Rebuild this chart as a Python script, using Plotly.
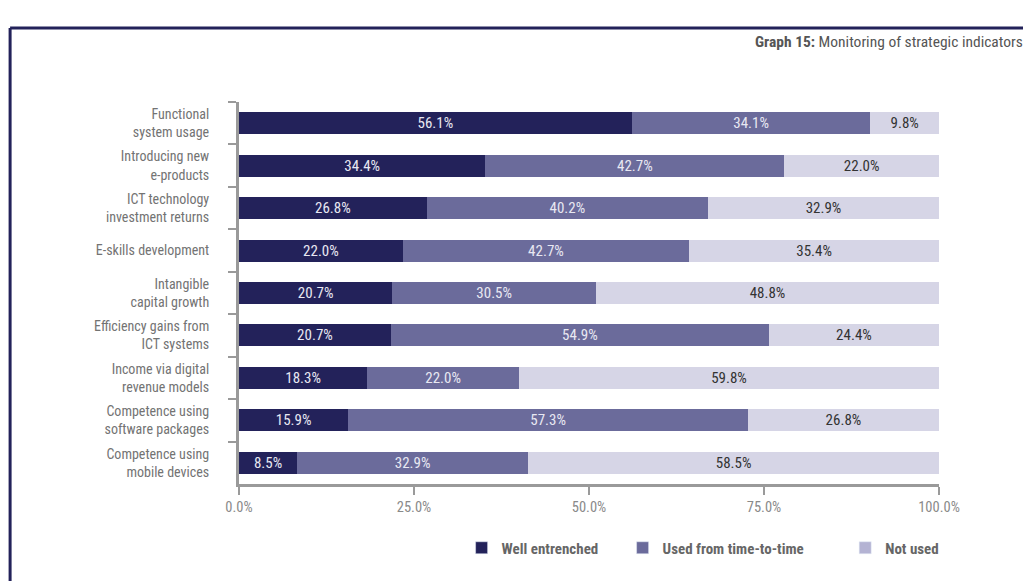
import plotly.graph_objects as go

categories = [
    "Functional<br>system usage",
    "Introducing new<br>e-products",
    "ICT technology<br>investment returns",
    "E-skills development",
    "Intangible<br>capital growth",
    "Efficiency gains from<br>ICT systems",
    "Income via digital<br>revenue models",
    "Competence using<br>software packages",
    "Competence using<br>mobile devices",
]

series_names = ["Well entrenched", "Used from time-to-time", "Not used"]

# printed labels
labels_well = [56.1, 34.4, 26.8, 22.0, 20.7, 20.7, 18.3, 15.9, 8.5]
labels_time = [34.1, 42.7, 40.2, 42.7, 30.5, 54.9, 22.0, 57.3, 32.9]
labels_not = [9.8, 22.0, 32.9, 35.4, 48.8, 24.4, 59.8, 26.8, 58.5]

# bar lengths as drawn in the picture
well = [56.1, 35.2, 26.8, 23.4, 21.9, 21.7, 18.3, 15.6, 8.3]
time = [34.1, 42.7, 40.2, 40.9, 29.1, 54.0, 21.7, 57.1, 33.0]
notu = [9.8, 22.1, 33.0, 35.7, 49.0, 24.3, 60.0, 27.3, 58.7]

x_ticks = [0, 25, 50, 75, 100]
x_ticklabels = ["0.0%", "25.0%", "50.0%", "75.0%", "100.0%"]

colors = ["#23225a", "#6b6b9b", "#d6d5e6"]
legend_colors = ["#23225a", "#6b6b9b", "#b4b3d3"]
text_colors = ["#e8e8f2", "#e8e8f2", "#333333"]

FONT = "Liberation Sans Narrow, Roboto Condensed, Arial Narrow, sans-serif"

fig = go.Figure()
for name, vals, labs, c, tc in zip(series_names, [well, time, notu],
                                   [labels_well, labels_time, labels_not],
                                   colors, text_colors):
    fig.add_trace(go.Bar(
        y=categories,
        x=vals,
        orientation="h",
        name=name,
        marker=dict(color=c, line=dict(width=0)),
        text=[f"{v:.1f}%" for v in labs],
        textposition="inside",
        insidetextanchor="middle",
        textangle=0,
        textfont=dict(color=tc, size=15, family=FONT),
        width=0.52,
        showlegend=False,
    ))

# legend entries, one legend each so they can be spaced like the original
legend_ids = ["legend", "legend2", "legend3"]
legend_x = [0.318, 0.548, 0.866]
for name, c, lid in zip(series_names, legend_colors, legend_ids):
    fig.add_trace(go.Bar(
        y=[None], x=[None], orientation="h", name=name,
        marker=dict(color=c), showlegend=True, legend=lid,
    ))

legend_style = dict(
    orientation="h",
    xanchor="left",
    y=-0.1675,
    yanchor="middle",
    bgcolor="rgba(0,0,0,0)",
    font=dict(size=15, color="#666666", family=FONT, weight="bold"),
    itemwidth=30,
)

fig.update_layout(
    width=1031,
    height=581,
    barmode="stack",
    plot_bgcolor="white",
    paper_bgcolor="white",
    font=dict(family=FONT, color="#666666", size=14),
    uniformtext=dict(minsize=15, mode="show"),
    # page body adds an 8px offset, so the margins are shifted back by 8px
    margin=dict(l=231, r=100, t=94, b=105),
    xaxis=dict(
        range=[0, 100],
        tickvals=x_ticks,
        ticktext=x_ticklabels,
        showgrid=False,
        zeroline=False,
        showline=True,
        linecolor="#9a9a9a",
        linewidth=3,
        ticks="outside",
        ticklen=8,
        tickwidth=2,
        tickcolor="#9a9a9a",
        tickfont=dict(size=14.5, color="#8a8a8a"),
        fixedrange=True,
    ),
    yaxis=dict(
        range=[8.5, -0.5],
        showgrid=False,
        showline=True,
        linecolor="#9a9a9a",
        linewidth=3,
        ticks="outside",
        tickson="boundaries",
        ticklen=8,
        tickwidth=2,
        tickcolor="#9a9a9a",
        tickfont=dict(size=14, color="#737373"),
        ticklabelstandoff=24,
        fixedrange=True,
    ),
    legend=dict(legend_style, x=legend_x[0]),
    legend2=dict(legend_style, x=legend_x[1]),
    legend3=dict(legend_style, x=legend_x[2]),
    annotations=[dict(
        xref="paper", yref="paper",
        x=1.1229, y=1.157,
        xanchor="right", yanchor="middle",
        text="<b>Graph 15:</b> Monitoring of strategic indicators",
        showarrow=False,
        font=dict(size=15.5, color="#555555", family=FONT),
    )],
    shapes=[
        dict(type="line", xref="paper", yref="paper",
             x0=-0.327, y0=1.194, x1=1.2, y1=1.194,
             line=dict(color="#23225a", width=3)),
        dict(type="line", xref="paper", yref="paper",
             x0=-0.327, y0=1.194, x1=-0.327, y1=-0.3,
             line=dict(color="#23225a", width=3)),
    ],
)

fig.write_html("out.html")
